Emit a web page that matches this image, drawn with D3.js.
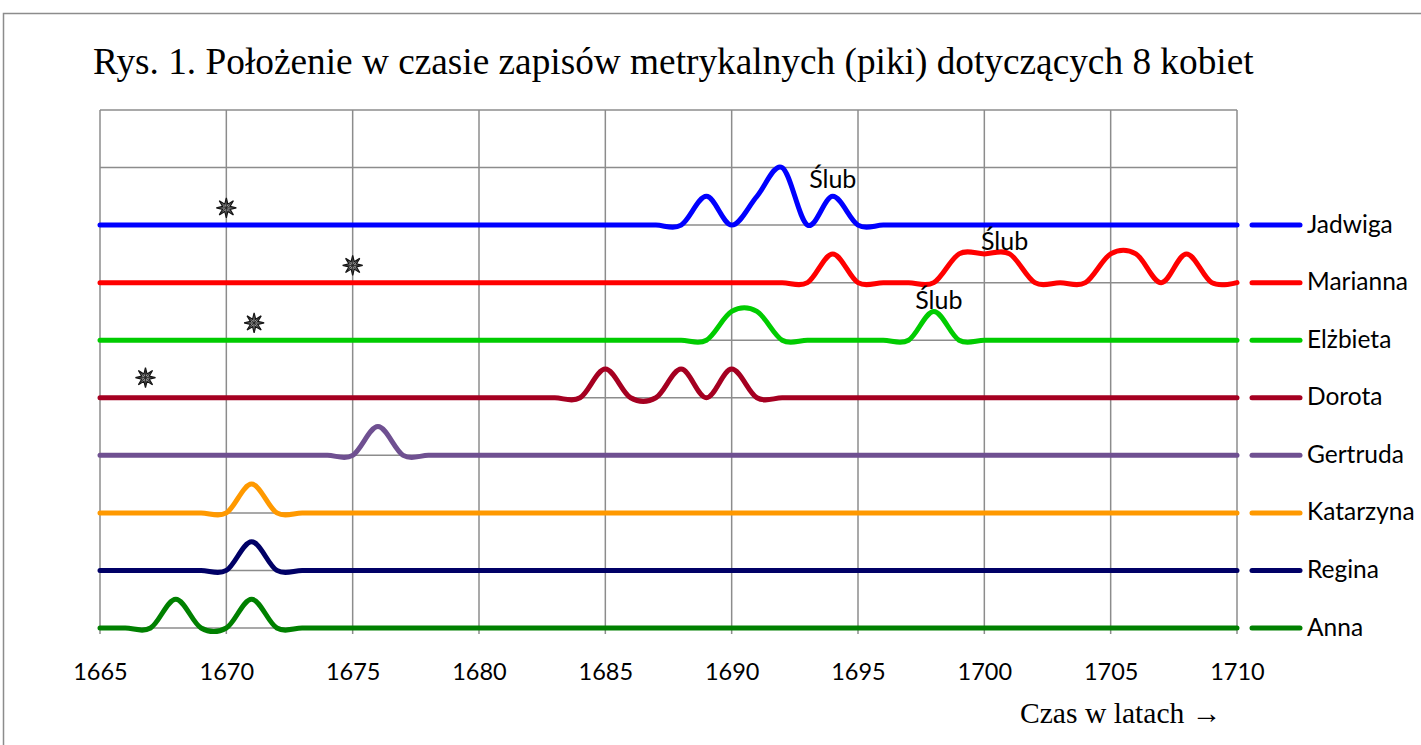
<!DOCTYPE html>
<html>
<head>
<meta charset="utf-8">
<script src="https://cdn.jsdelivr.net/npm/d3@7"></script>
<style>
  body { margin: 0; background: #fff; }
  svg { display: block; }
</style>
</head>
<body>
<div id="chart"></div>
<script>
(function() {
  'use strict'

  // Data //
  var names = ["Jadwiga", "Marianna", "Elżbieta", "Dorota", "Gertruda", "Katarzyna", "Regina", "Anna"]
  var colors = ["#0000ff", "#ff0000", "#00cc00", "#a50021", "#6f5091", "#ff9900", "#000066", "#008000"]
  var baselines = [7, 6, 5, 4, 3, 2, 1, 0]

  var years = d3.range(1665, 1711)   // one record per year, 1665..1710

  // height of each peak above the woman's own baseline, year by year
  var jadwiga = [
    0, 0, 0, 0, 0,   0, 0, 0, 0, 0,      // 1665-1674
    0, 0, 0, 0, 0,   0, 0, 0, 0, 0,      // 1675-1684
    0, 0, 0, 0, 0.5, 0, 0.5, 1, 0, 0.5,  // 1685-1694
    0, 0, 0, 0, 0,   0, 0, 0, 0, 0,      // 1695-1704
    0, 0, 0, 0, 0,   0                   // 1705-1710
  ]
  var marianna = [
    0, 0, 0, 0, 0,     0, 0, 0, 0, 0,
    0, 0, 0, 0, 0,     0, 0, 0, 0, 0,
    0, 0, 0, 0, 0,     0, 0, 0, 0, 0.5,
    0, 0, 0, 0, 0.5,   0.5, 0.5, 0, 0, 0,
    0.5, 0.5, 0, 0.5, 0, 0
  ]
  var elzbieta = [
    0, 0, 0, 0, 0,     0, 0, 0, 0, 0,
    0, 0, 0, 0, 0,     0, 0, 0, 0, 0,
    0, 0, 0, 0, 0,     0.5, 0.5, 0, 0, 0,
    0, 0, 0, 0.5, 0,   0, 0, 0, 0, 0,
    0, 0, 0, 0, 0,     0
  ]
  var dorota = [
    0, 0, 0, 0, 0,     0, 0, 0, 0, 0,
    0, 0, 0, 0, 0,     0, 0, 0, 0, 0,
    0.5, 0, 0, 0.5, 0, 0.5, 0, 0, 0, 0,
    0, 0, 0, 0, 0,     0, 0, 0, 0, 0,
    0, 0, 0, 0, 0,     0
  ]
  var gertruda = [
    0, 0, 0, 0, 0,     0, 0, 0, 0, 0,
    0, 0.5, 0, 0, 0,   0, 0, 0, 0, 0,
    0, 0, 0, 0, 0,     0, 0, 0, 0, 0,
    0, 0, 0, 0, 0,     0, 0, 0, 0, 0,
    0, 0, 0, 0, 0,     0
  ]
  var katarzyna = [
    0, 0, 0, 0, 0,     0, 0.5, 0, 0, 0,
    0, 0, 0, 0, 0,     0, 0, 0, 0, 0,
    0, 0, 0, 0, 0,     0, 0, 0, 0, 0,
    0, 0, 0, 0, 0,     0, 0, 0, 0, 0,
    0, 0, 0, 0, 0,     0
  ]
  var regina = [
    0, 0, 0, 0, 0,     0, 0.5, 0, 0, 0,
    0, 0, 0, 0, 0,     0, 0, 0, 0, 0,
    0, 0, 0, 0, 0,     0, 0, 0, 0, 0,
    0, 0, 0, 0, 0,     0, 0, 0, 0, 0,
    0, 0, 0, 0, 0,     0
  ]
  var anna = [
    0, 0, 0, 0.5, 0,   0, 0.5, 0, 0, 0,
    0, 0, 0, 0, 0,     0, 0, 0, 0, 0,
    0, 0, 0, 0, 0,     0, 0, 0, 0, 0,
    0, 0, 0, 0, 0,     0, 0, 0, 0, 0,
    0, 0, 0, 0, 0,     0
  ]
  var series = [jadwiga, marianna, elzbieta, dorota, gertruda, katarzyna, regina, anna]

  // births (stars) and weddings: [year, level]
  var births = [[1670, 7.3], [1675, 6.3], [1671.1, 5.3], [1666.8, 4.35]]
  var weddings = [[1694, 7.82], [1700.8, 6.74], [1698.2, 5.72]]

  var xTicks = d3.range(1665, 1711, 5)
  var yTicks = d3.range(0, 10, 1)

  var title = "Rys. 1. Położenie w czasie zapisów metrykalnych (piki) dotyczących 8 kobiet"
  var xTitle = "Czas w latach →"

  // SVG Setup //
  var width = 1421,
    height = 745

  var svg = d3.select("#chart").append("svg")
    .attr("width", width)
    .attr("height", height)

  var x = d3.scaleLinear().domain([1665, 1710]).range([100, 1237])
  var y = d3.scaleLinear().domain([0, 9]).range([628, 110])

  // outer frame
  svg.append("rect")
    .attr("x", 3.5).attr("y", 13.5)
    .attr("width", 1440).attr("height", 760)
    .attr("fill", "none").attr("stroke", "#8c8c8c").attr("stroke-width", 1.5)

  svg.append("text")
    .attr("x", 93).attr("y", 74)
    .attr("font-family", "'Liberation Serif', 'Times New Roman', serif")
    .attr("font-size", 37.3)
    .attr("fill", "#000")
    .text(title)

  // grid //
  var grid = svg.append("g").attr("stroke", "#8c8c8c").attr("stroke-width", 1.5)

  grid.selectAll(".hgrid").data(yTicks).enter().append("line")
    .attr("x1", x(1665)).attr("x2", x(1710))
    .attr("y1", function(d) { return y(d) }).attr("y2", function(d) { return y(d) })

  grid.selectAll(".vgrid").data(xTicks).enter().append("line")
    .attr("x1", function(d) { return x(d) }).attr("x2", function(d) { return x(d) })
    .attr("y1", y(9)).attr("y2", y(0) + 6)

  // x axis labels
  var xAxis = d3.axisBottom(x).tickValues(xTicks).tickFormat(d3.format("d")).tickSize(0).tickPadding(35)
  var axisG = svg.append("g").attr("transform", "translate(0," + y(0) + ")").call(xAxis)
  axisG.select(".domain").remove()
  axisG.selectAll("text")
    .attr("font-family", "Lato, sans-serif")
    .attr("font-size", 23.5)
    .attr("fill", "#000")

  svg.append("text")
    .attr("x", 1020).attr("y", 723)
    .attr("font-family", "'Liberation Serif', 'Times New Roman', serif")
    .attr("font-size", 29.6)
    .attr("fill", "#000")
    .text(xTitle)

  // lines //
  var line = d3.line()
    .x(function(d) { return x(d[0]) })
    .y(function(d) { return y(d[1]) })
    .curve(d3.curveCatmullRom.alpha(0))

  series.forEach(function(s, i) {
    var pts = years.map(function(yr, k) { return [yr, baselines[i] + s[k]] })
    svg.append("path")
      .datum(pts)
      .attr("d", line)
      .attr("fill", "none")
      .attr("stroke", colors[i])
      .attr("stroke-width", 5)
      .attr("stroke-linecap", "round")
      .attr("stroke-linejoin", "round")
  })

  // births //
  function starPath(R, r) {
    var pts = d3.range(16).map(function(k) {
      var a = k * Math.PI / 8 - Math.PI / 2
      var rad = k % 2 === 0 ? R : r
      return [rad * Math.cos(a), rad * Math.sin(a)]
    })
    return "M" + pts.join("L") + "Z"
  }
  function spokes(R) {
    return d3.range(8).map(function(k) {
      var a = k * Math.PI / 4 - Math.PI / 2
      return "M0,0L" + (R * Math.cos(a)) + "," + (R * Math.sin(a))
    }).join("")
  }

  var stars = svg.selectAll(".birth").data(births).enter().append("g")
    .attr("class", "birth")
    .attr("transform", function(d) { return "translate(" + x(d[0]) + "," + y(d[1]) + ")" })
  stars.append("path").attr("d", starPath(10, 4))
    .attr("fill", "#999").attr("stroke", "#111").attr("stroke-width", 1.2)
  stars.append("path").attr("d", spokes(9))
    .attr("stroke", "#222").attr("stroke-width", 0.9)

  // wedding labels //
  svg.selectAll(".slub").data(weddings).enter().append("text")
    .attr("x", function(d) { return x(d[0]) })
    .attr("y", function(d) { return y(d[1]) })
    .attr("text-anchor", "middle")
    .attr("dominant-baseline", "central")
    .attr("font-family", "Lato, sans-serif")
    .attr("font-size", 25)
    .attr("fill", "#000")
    .text("Ślub")

  // legend //
  var legend = svg.selectAll(".legend").data(names).enter().append("g")
    .attr("transform", function(d, i) { return "translate(1250," + y(baselines[i]) + ")" })
  legend.append("line")
    .attr("x1", 2).attr("x2", 50)
    .attr("stroke", function(d, i) { return colors[i] })
    .attr("stroke-width", 5)
    .attr("stroke-linecap", "round")
  legend.append("text")
    .attr("x", 57).attr("y", -2)
    .attr("dominant-baseline", "central")
    .attr("font-family", "Lato, sans-serif")
    .attr("font-size", 24.5)
    .attr("fill", "#000")
    .text(function(d) { return d })
})()
</script>
</body>
</html>
